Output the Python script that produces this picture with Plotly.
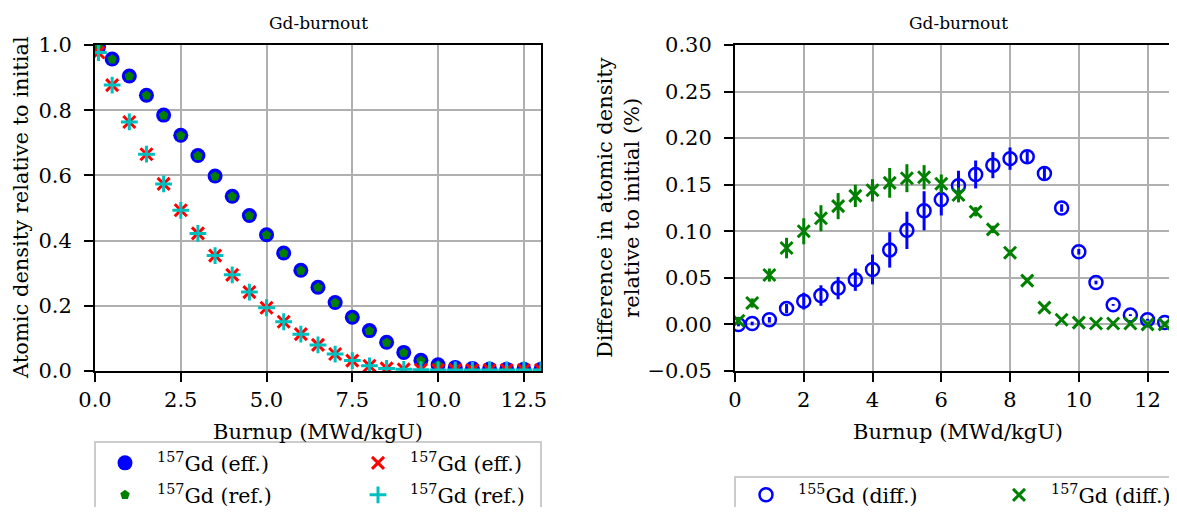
import plotly.graph_objects as go

# ---------------- data ----------------
burnup = [0.1, 0.5, 1.0, 1.5, 2.0, 2.5, 3.0, 3.5, 4.0, 4.5, 5.0, 5.5, 6.0, 6.5,
          7.0, 7.5, 8.0, 8.5, 9.0, 9.5, 10.0, 10.5, 11.0, 11.5, 12.0, 12.5, 13.0]

gd157_eff = [0.993, 0.957, 0.905, 0.846, 0.785, 0.723, 0.661, 0.598, 0.536, 0.477,
             0.418, 0.362, 0.309, 0.257, 0.210, 0.165, 0.124, 0.088, 0.057, 0.033,
             0.019, 0.011, 0.008, 0.006, 0.005, 0.005, 0.005]
gd157_ref = [0.993, 0.956, 0.904, 0.845, 0.784, 0.722, 0.660, 0.597, 0.535, 0.476,
             0.417, 0.361, 0.308, 0.256, 0.209, 0.164, 0.123, 0.087, 0.056, 0.032,
             0.018, 0.010, 0.007, 0.005, 0.004, 0.004, 0.004]
gd155_eff = [0.977, 0.877, 0.764, 0.665, 0.574, 0.493, 0.422, 0.354, 0.295, 0.242,
             0.194, 0.151, 0.113, 0.080, 0.052, 0.032, 0.016, 0.008, 0.005, 0.004,
             0.003, 0.003, 0.003, 0.003, 0.003, 0.003, 0.003]
gd155_ref = [0.977, 0.877, 0.764, 0.665, 0.574, 0.493, 0.422, 0.354, 0.295, 0.242,
             0.194, 0.151, 0.113, 0.080, 0.052, 0.032, 0.016, 0.008, 0.005, 0.004,
             0.003, 0.003, 0.003, 0.003, 0.003, 0.003, 0.003]

gd155_diff = [0.000, 0.001, 0.005, 0.017, 0.025, 0.031, 0.039, 0.048, 0.059, 0.080,
              0.101, 0.122, 0.134, 0.149, 0.161, 0.171, 0.178, 0.180, 0.162, 0.125,
              0.078, 0.045, 0.021, 0.010, 0.005, 0.002, 0.001]
gd155_diff_err = [0.002, 0.002, 0.003, 0.005, 0.009, 0.011, 0.012, 0.012, 0.016, 0.019,
                  0.020, 0.021, 0.017, 0.016, 0.015, 0.014, 0.012, 0.006, 0.007, 0.004,
                  0.003, 0.002, 0.001, 0.001, 0.001, 0.001, 0.001]
gd157_diff = [0.004, 0.023, 0.053, 0.082, 0.100, 0.114, 0.127, 0.138, 0.144, 0.152,
              0.157, 0.158, 0.151, 0.139, 0.121, 0.102, 0.077, 0.047, 0.018, 0.005,
              0.002, 0.001, 0.001, 0.001, 0.000, 0.000, 0.000]
gd157_diff_err = [0.004, 0.005, 0.007, 0.011, 0.014, 0.014, 0.014, 0.012, 0.012, 0.016,
                  0.015, 0.013, 0.010, 0.008, 0.005, 0.004, 0.003, 0.002, 0.001, 0.001,
                  0.001, 0.001, 0.001, 0.001, 0.001, 0.001, 0.001]

left_ticks = [0.0, 2.5, 5.0, 7.5, 10.0, 12.5]
left_ytick = [0.0, 0.2, 0.4, 0.6, 0.8, 1.0]
right_ticks = [0, 2, 4, 6, 8, 10, 12]
right_ytick = [-0.05, 0.00, 0.05, 0.10, 0.15, 0.20, 0.25, 0.30]

# ---------------- figure ----------------
OFF = 8                      # the page body adds an 8 px margin around the figure
W, H = 1177 - 2 * OFF, 515 - 2 * OFF
FONT = "DejaVu Serif"
FS_TICK = 21
FS_LABEL = 21
FS_TITLE = 17
FS_LEG = 20.5
PX_PER_UNIT = 34.38

def px_x(p):
    return (p - OFF) / W

def px_y(p):
    return 1 - (p - OFF) / H

fig = go.Figure()

# left panel
fig.add_trace(go.Scatter(x=burnup, y=gd157_eff, mode="markers", name="<sup>157</sup>Gd (eff.)",
                         marker=dict(symbol="circle", size=15, color="blue"),
                         xaxis="x", yaxis="y", legend="legend"))
fig.add_trace(go.Scatter(x=burnup, y=gd157_ref, mode="markers", name="<sup>157</sup>Gd (ref.)",
                         marker=dict(symbol="pentagon", size=10, color="green"),
                         xaxis="x", yaxis="y", legend="legend5"))
fig.add_trace(go.Scatter(x=burnup, y=gd155_eff, mode="markers", name="<sup>157</sup>Gd (eff.)",
                         marker=dict(symbol="x-thin-open", size=12, color="red",
                                     line=dict(width=3, color="red")),
                         xaxis="x", yaxis="y", legend="legend3"))
fig.add_trace(go.Scatter(x=burnup, y=gd155_ref, mode="markers", name="<sup>157</sup>Gd (ref.)",
                         marker=dict(symbol="cross-thin-open", size=12, color="#00bfbf",
                                     line=dict(width=3, color="#00bfbf")),
                         xaxis="x", yaxis="y", legend="legend6"))

# right panel
fig.add_trace(go.Scatter(x=burnup, y=gd155_diff, mode="markers", name="<sup>155</sup>Gd (diff.)",
                         marker=dict(symbol="circle-open", size=13, color="blue",
                                     line=dict(width=2.5, color="blue")),
                         error_y=dict(type="data", array=gd155_diff_err, color="blue",
                                      thickness=3, width=0),
                         xaxis="x2", yaxis="y2", legend="legend2"))
fig.add_trace(go.Scatter(x=burnup, y=gd157_diff, mode="markers", name="<sup>157</sup>Gd (diff.)",
                         marker=dict(symbol="x-thin-open", size=12, color="green",
                                     line=dict(width=3, color="green")),
                         error_y=dict(type="data", array=gd157_diff_err, color="green",
                                      thickness=3, width=0),
                         xaxis="x2", yaxis="y2", legend="legend4"))

axis_common = dict(showline=True, linecolor="black", linewidth=2,
                   showgrid=True, gridcolor="#b0b0b0", gridwidth=1.5,
                   ticks="outside", ticklen=9, tickwidth=1.5, tickcolor="black",
                   zeroline=False, tickfont=dict(family=FONT, size=FS_TICK, color="black"))

leg_common = dict(xanchor="left", yanchor="middle", borderwidth=0,
                  bgcolor="rgba(0,0,0,0)", itemwidth=54,
                  font=dict(family=FONT, size=FS_LEG, color="black"))

fig.update_layout(
    width=W, height=H,
    margin=dict(l=0, r=0, t=0, b=0, autoexpand=False),
    paper_bgcolor="white", plot_bgcolor="white",
    font=dict(family=FONT, size=FS_LABEL, color="black"),
    xaxis=dict(domain=[px_x(95), px_x(541)], range=[0, 13], tickvals=left_ticks,
               ticktext=[f"{v:.1f}" for v in left_ticks], anchor="y", mirror=True,
               **axis_common),
    yaxis=dict(domain=[px_y(371), px_y(45)], range=[0, 1], tickvals=left_ytick,
               ticktext=[f"{v:.1f}" for v in left_ytick], anchor="x", mirror=True,
               ticklabelstandoff=8, **axis_common),
    xaxis2=dict(domain=[px_x(735), 1.0], range=[0, (1169 - 735) / PX_PER_UNIT],
                tickvals=right_ticks, ticktext=[str(v) for v in right_ticks],
                anchor="y2", mirror=True, **axis_common),
    yaxis2=dict(domain=[px_y(371), px_y(45)], range=[-0.05, 0.30], tickvals=right_ytick,
                ticktext=[f"{v:.2f}".replace("-", "\u2212") for v in right_ytick],
                anchor="x2", mirror=False, ticklabelstandoff=8, **axis_common),
    legend=dict(x=px_x(93), y=px_y(463), **leg_common),
    legend5=dict(x=px_x(93), y=px_y(495), **leg_common),
    legend3=dict(x=px_x(346), y=px_y(463), **leg_common),
    legend6=dict(x=px_x(346), y=px_y(495), **leg_common),
    legend2=dict(x=px_x(734), y=px_y(495), **leg_common),
    legend4=dict(x=px_x(987), y=px_y(495), **leg_common),
    showlegend=True,
)

shapes = [
    dict(type="rect", xref="paper", yref="paper", x0=px_x(95), x1=px_x(541),
         y0=px_y(530), y1=px_y(442), line=dict(color="#cccccc", width=2),
         fillcolor="rgba(255,255,255,0.8)", layer="below"),
    dict(type="rect", xref="paper", yref="paper", x0=px_x(735), x1=px_x(1195),
         y0=px_y(530), y1=px_y(477), line=dict(color="#cccccc", width=2),
         fillcolor="rgba(255,255,255,0.8)", layer="below"),
]

ann_common = dict(xref="paper", yref="paper", showarrow=False,
                  xanchor="center", yanchor="middle")
annotations = [
    dict(text="Gd-burnout", x=px_x(318), y=px_y(23),
         font=dict(family=FONT, size=FS_TITLE), **ann_common),
    dict(text="Gd-burnout", x=px_x(958), y=px_y(23),
         font=dict(family=FONT, size=FS_TITLE), **ann_common),
    dict(text="Burnup (MWd/kgU)", x=px_x(318), y=px_y(432),
         font=dict(family=FONT, size=FS_LABEL), **ann_common),
    dict(text="Burnup (MWd/kgU)", x=px_x(958), y=px_y(432),
         font=dict(family=FONT, size=FS_LABEL), **ann_common),
    dict(text="Atomic density relative to initial", x=px_x(21), y=px_y(208),
         textangle=-90, font=dict(family=FONT, size=FS_LABEL), **ann_common),
    dict(text="Difference in atomic density<br>relative to initial (%)", x=px_x(619),
         y=px_y(208), textangle=-90, font=dict(family=FONT, size=FS_LABEL), **ann_common),
]
fig.update_layout(annotations=annotations, shapes=shapes)

fig.write_html("out.html")
